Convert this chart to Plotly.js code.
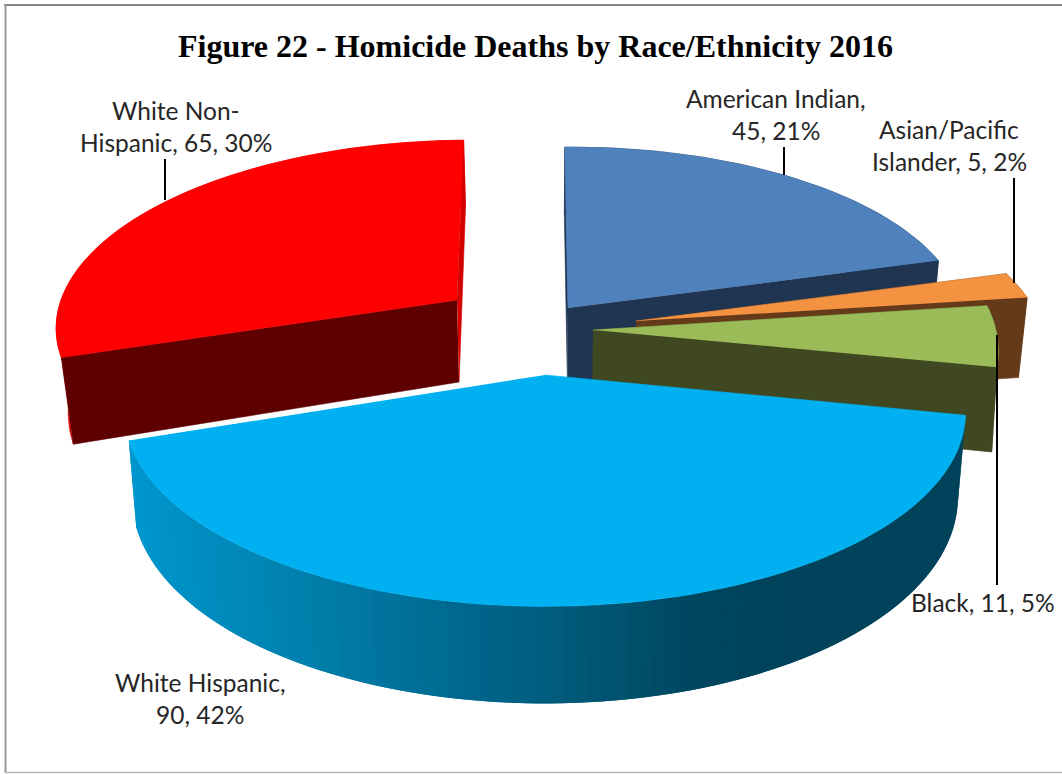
<!DOCTYPE html>
<html>
<head>
<meta charset="utf-8">
<script src="https://cdn.plot.ly/plotly-3.0.1.min.js"></script>
<style>html,body{margin:0;padding:0;background:#fff}#chart{width:1062px;height:774px}</style>
</head>
<body>
<div id="chart"></div>
<script>
// Homicide deaths by race/ethnicity, 2016
const categories = ["American Indian", "Asian/Pacific Islander", "Black", "White Hispanic", "White Non-Hispanic"];
const deaths = [45, 5, 11, 90, 65];
const labelHeads = [["American Indian,"], ["Asian/Pacific", "Islander,"], ["Black,"], ["White Hispanic,"], ["White Non-", "Hispanic,"]];
const chartTitle = "Figure 22 - Homicide Deaths by Race/Ethnicity 2016";

// Exploded tilted-pie geometry, in axis units (the axes span the page)
const total = deaths.reduce((a, b) => a + b, 0);
const firstAngle = -91;
const xCentre = 540;
const wedges = [
  {cx: 568, cy: 308, R: 395, S: 177, k: 0.10, shear: -0.019, conv: 0.018, top: "#4f81bd", wall: "#1f3552", start: "#1f3552", end: "#1f3552"},
  {cx: 636, cy: 321, R: 404, S: 180, k: 0.177, shear: 0, conv: 0.018, top: "#f39241", wall: "#643a1b", start: "#643a1b", end: "#643a1b"},
  {cx: 593, cy: 330, R: 403, S: 190, k: 0.30, shear: -0.41, conv: 0.012, top: "#9bbb59", wall: "#404822", start: "#404822", end: "#404822"},
  {cx: 545, cy: 378, R: 414, S: 188, k: 0.177, shear: 0, conv: 0.018, lift: 3, startTrim: 0.4, endTrim: 1, top: "#00b0f0"},
  {cx: 457, cy: 300, R: 396, S: 179, k: 0.12, shear: -0.08, conv: 0.025, startTrim: 1.3, top: "#ff0000", wall: "#ee0000", start: "#5e0000", end: "#d40000"}
];
// Shading of the large wedge's rim, left to right
const rimX = [130, 290, 450, 600, 700, 800, 970];
const rimG = [150, 130, 105, 85, 70, 67, 67];
const rimB = [205, 175, 145, 115, 95, 90, 90];
// Label text centres, one per printed line
const labelX = [776, 949, 983, 200, 176];
const labelY = [[98, 130], [129, 161], [602], [682, 714], [110, 142]];
// Leader lines from labels to wedges
const leaders = [[[784, 147], [784, 175]], [[1014, 178], [1014, 283]], [[997, 335], [997, 585]], null, [[165, 159], [165, 200]]];

function topPoint(w, deg) {
  const t = deg * Math.PI / 180, u = Math.cos(t), v = Math.sin(t), d = 1 - w.k * v;
  const dy = w.S * v / d;
  return {x: w.cx + w.R * u / d + w.shear * dy, y: w.cy + dy, v: v};
}
function basePoint(w, p) {
  return {x: xCentre + (p.x - xCentre) * (1 - w.conv), y: p.y + 82 + 15 * p.v};
}
function poly(pts, color, extra) {
  return Object.assign({
    type: "scatter", mode: "lines", x: pts.map(p => p.x), y: pts.map(p => p.y),
    fill: "toself", fillcolor: color, line: {color: color, width: 0.6},
    hoverinfo: "skip", showlegend: false
  }, extra || {});
}
function lerpStops(xs, ys, x) {
  for (let i = 1; i < xs.length; i++) {
    if (x <= xs[i]) return ys[i - 1] + (ys[i] - ys[i - 1]) * (x - xs[i - 1]) / (xs[i] - xs[i - 1]);
  }
  return ys[ys.length - 1];
}

const traces = [];
const drawOrder = [4, 0, 1, 2, 3];
const ranges = [];
let a = firstAngle;
deaths.forEach((val, i) => { ranges[i] = [a, a + val / total * 360]; a = ranges[i][1]; });

drawOrder.forEach(i => {
  const w = wedges[i];
  const a0 = ranges[i][0] + (w.startTrim || 0), a1 = ranges[i][1] + (w.endTrim || 0);
  const n = Math.max(8, Math.round((a1 - a0) / 1.5));
  const arc = [];
  for (let j = 0; j <= n; j++) arc.push(topPoint(w, a0 + (a1 - a0) * j / n));
  const base = arc.map(p => basePoint(w, p));
  const apex = {x: w.cx, y: w.cy - (w.lift || 0), v: 0}, apexBase = basePoint(w, {x: w.cx, y: w.cy, v: 0});

  if (w.wall) {
    traces.push(poly(arc.concat(base.slice().reverse()), w.wall));
    traces.push(poly([apex, arc[0], base[0], apexBase], w.start));
    traces.push(poly([apex, arc[n], base[n], apexBase], w.end));
  } else {
    // Rim painted in overlapping strips so neighbouring shades leave no seams
    for (let j = 0; j < n; j++) {
      const e = Math.min(j + 2, n);
      const mid = (arc[j].x + arc[j + 1].x) / 2;
      const col = "rgb(0," + Math.round(lerpStops(rimX, rimG, mid)) + "," + Math.round(lerpStops(rimX, rimB, mid)) + ")";
      traces.push(poly(arc.slice(j, e + 1).concat(base.slice(j, e + 1).reverse()), col, {line: {color: col, width: 0}}));
    }
  }
  traces.push(poly([apex].concat(arc), w.top, {
    name: categories[i], hoverinfo: "text",
    text: categories[i] + ": " + deaths[i], hoveron: "fills"
  }));
});

leaders.forEach(seg => {
  if (!seg) return;
  traces.push({
    type: "scatter", mode: "lines", x: seg.map(p => p[0]), y: seg.map(p => p[1]),
    line: {color: "#000", width: 2}, hoverinfo: "skip", showlegend: false
  });
});

// Each label ends with "value, percent"; short names put that on its own line
const annotations = [];
labelHeads.forEach((head, i) => {
  const tail = deaths[i] + ", " + Math.round(deaths[i] / total * 100) + "%";
  let lines;
  if (i === 0 || i === 3) lines = [head[0], tail];
  else lines = head.slice(0, -1).concat(head[head.length - 1] + " " + tail);
  lines.forEach((txt, j) => annotations.push({
    x: labelX[i], y: labelY[i][j], xref: "x", yref: "y", text: txt, showarrow: false,
    xanchor: "center", yanchor: "middle",
    font: {family: "Lato, Carlito, sans-serif", size: 24.5, color: "#262626"}
  }));
});
annotations.push({
  x: 535, y: 46, xref: "x", yref: "y", text: "<b>" + chartTitle + "</b>", showarrow: false,
  xanchor: "center", yanchor: "middle",
  font: {family: "'Liberation Serif', serif", size: 32, color: "#000"}
});

const layout = {
  width: 1062, height: 774,
  margin: {l: 0, r: 0, t: 0, b: 0},
  paper_bgcolor: "#fff", plot_bgcolor: "#fff",
  xaxis: {range: [0, 1062], visible: false, fixedrange: true},
  yaxis: {range: [774, 0], visible: false, fixedrange: true},
  showlegend: false,
  annotations: annotations,
  shapes: [
    {type: "line", xref: "x", yref: "y", x0: 4, x1: 1062, y0: 5, y1: 5, line: {color: "#858585", width: 2}},
    {type: "line", xref: "x", yref: "y", x0: 5.5, x1: 5.5, y0: 4, y1: 773, line: {color: "#999999", width: 2}},
    {type: "line", xref: "x", yref: "y", x0: 5, x1: 1062, y0: 772.5, y1: 772.5, line: {color: "#b5b5b5", width: 1.5}}
  ]
};
Plotly.newPlot("chart", traces, layout, {displayModeBar: false});
</script>
</body>
</html>
